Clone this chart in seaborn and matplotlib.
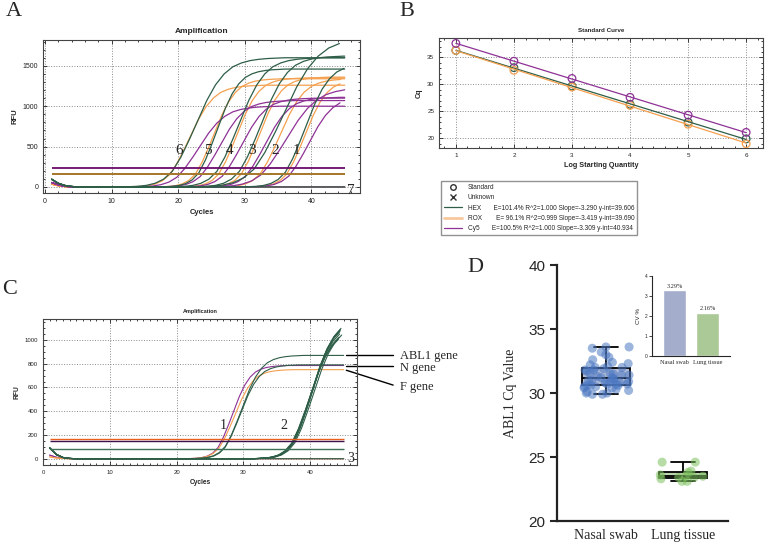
import matplotlib
matplotlib.use('Agg')
import matplotlib.pyplot as plt
from matplotlib.lines import Line2D
from matplotlib.ticker import MultipleLocator
import seaborn as sns
import pandas as pd
import numpy as np

# ---------------- data ----------------
# shared normalised amplification profile (offset in cycles from the midpoint)
profile_offsets = list(range(-9, 11))
profile = [0.0, 0.002, 0.005, 0.012, 0.028, 0.06, 0.12, 0.23, 0.37, 0.52,
           0.67, 0.79, 0.875, 0.93, 0.96, 0.978, 0.988, 0.994, 0.997, 1.0]
bump_cycles = [1, 2, 3, 4, 5]
last_cycle = 45

# panel A: dilutions 1..6 (log quantity), three channels
a_hex_mid = [39.4, 36.2, 32.8, 29.4, 26.1, 23.0]
a_hex_plateau = [1530, 1850, 1620, 1600, 1460, 1600]
a_hex_stretch = [1.1, 1.6, 1.2, 1.2, 1.0, 1.3]
a_rox_mid = [39.3, 35.6, 32.5, 29.1, 25.6, 22.0]
a_rox_plateau = [1330, 1340, 1360, 1350, 1340, 1260]
a_rox_stretch = [1.0, 1.1, 1.0, 1.0, 1.0, 1.1]
a_cy5_mid = [39.9, 36.6, 33.4, 29.9, 26.6, 23.4]
a_cy5_plateau = [1120, 1230, 1110, 1100, 1070, 1000]
a_cy5_stretch = [1.1, 1.4, 1.1, 1.1, 1.1, 1.2]
a_bump = {'HEX': [95, 45, 18, 6, 0], 'ROX': [35, 15, 5, 1, 0], 'Cy5': [55, 25, 8, 2, 0]}
a_thresholds = {'Cy5': 230, 'HEX': 162, 'ROX': 158}
a_labels = ['6', '5', '4', '3', '2', '1', '7']
a_label_x = [20.1, 24.4, 27.7, 31.1, 34.5, 37.7, 45.9]
a_label_y = [450, 450, 450, 450, 450, 450, -40]

# panel B: standard curve
log_qty = [1, 2, 3, 4, 5, 6]
cq_hex = [36.3, 33.1, 29.7, 26.3, 23.0, 19.9]
cq_rox = [36.3, 32.6, 29.5, 26.1, 22.6, 19.0]
cq_cy5 = [37.6, 34.3, 31.1, 27.6, 24.3, 21.1]
b_legend = ['HEX       E=101.4% R^2=1.000 Slope=-3.290 y-int=39.606',
            'ROX        E= 96.1% R^2=0.999 Slope=-3.419 y-int=39.690',
            'Cy5       E=100.5% R^2=1.000 Slope=-3.309 y-int=40.934']

# panel C: clinical samples
c_curves = [  # channel, midpoint, plateau, stretch
    ('Cy5', 28.6, 785, 0.8), ('ROX', 28.9, 750, 0.85),
    ('HEX', 30.0, 870, 0.9), ('HEX', 29.8, 790, 0.85),
    ('HEX', 40.3, 1100, 1.0), ('HEX', 40.4, 1130, 1.0), ('HEX', 40.5, 1160, 1.0),
    ('HEX', 40.6, 1180, 1.0), ('HEX', 40.2, 1080, 1.0), ('HEX', 40.7, 1120, 1.0),
    ('HEX', 40.4, 1150, 1.0), ('HEX', 40.5, 1170, 1.0),
    ('Cy5', 99, 0, 1.0), ('ROX', 99, 0, 1.0), ('HEX', 99, 0, 1.0),
]
c_bump = {'HEX': [90, 35, 10, 2, 0], 'ROX': [15, 6, 2, 0, 0], 'Cy5': [30, 12, 4, 1, 0]}
c_thresholds = {'ROX': 165, 'Cy5': 150, 'HEX': 85}
c_labels = ['1', '2', '3']
c_label_x = [27.0, 36.1, 46.0]
c_label_y = [280, 280, 0]
gene_names = ['ABL1 gene', 'N gene', 'F gene']
gene_rfu = [870, 785, 745]

# panel D
nasal_cq = [33.6, 33.6, 33.5, 33.2, 33.0, 32.8, 32.6, 32.4, 32.3, 32.2,
            32.1, 32.0, 32.0, 31.9, 31.8, 31.8, 31.7, 31.6, 31.5, 31.5,
            31.4, 31.3, 31.2, 31.2, 31.1, 31.1, 31.0, 31.0, 30.9, 30.9,
            30.8, 30.8, 30.7, 30.7, 30.7, 30.6, 30.6, 30.5, 30.5, 30.4,
            30.4, 30.3, 30.2, 30.1, 30.0, 30.0, 29.9, 29.9, 30.6, 31.4]
lung_cq = [24.6, 24.6, 23.9, 23.8, 23.6, 23.5, 23.5, 23.4, 23.4, 23.3, 23.1, 23.1]
sample_types = ['Nasal swab', 'Lung tissue']
cv_percent = [3.29, 2.16]

# ---------------- style ----------------
sns.set_style('ticks')
plt.rcParams['font.family'] = ['Liberation Sans', 'DejaVu Sans']
serif = ['Liberation Serif', 'DejaVu Serif']
ch_colors = {'HEX': '#2E5E48', 'ROX': '#F5A04F', 'Cy5': '#8E3296'}


def curve_frame(specs, bumps):
    rows = []
    for well, (ch, mid, plateau, stretch) in enumerate(specs):
        for c, b in zip(bump_cycles, bumps[ch]):
            rows.append((well, ch, c, b))
        added = False
        for o, p in zip(profile_offsets, profile):
            x = mid + o * stretch
            if bump_cycles[-1] < x <= last_cycle:
                rows.append((well, ch, x, plateau * p))
                added = True
        if not added or mid + profile_offsets[-1] * stretch <= last_cycle:
            rows.append((well, ch, last_cycle, rows[-1][3]))
    return pd.DataFrame(rows, columns=['well', 'channel', 'cycle', 'rfu'])


def amp_style(ax, fs):
    ax.grid(True, ls=':', color='#8a8a8a', lw=0.7)
    for s in ax.spines.values():
        s.set_color('#444444')
        s.set_linewidth(0.8)
    ax.tick_params(which='both', direction='in', top=True, right=True,
                   labelsize=fs, colors='#222222', width=0.6)
    ax.tick_params(which='major', length=3)
    ax.tick_params(which='minor', length=1.5)


fig = plt.figure(figsize=(7.65, 5.42), dpi=100)

# ---------------- A ----------------
axA = fig.add_axes([0.0562, 0.6439, 0.4144, 0.2823])
a_specs = []
for ch, mids, plats, strs in [('ROX', a_rox_mid, a_rox_plateau, a_rox_stretch),
                              ('Cy5', a_cy5_mid, a_cy5_plateau, a_cy5_stretch),
                              ('HEX', a_hex_mid, a_hex_plateau, a_hex_stretch)]:
    a_specs += [(ch, m, p, s) for m, p, s in zip(mids, plats, strs)]
    a_specs.append((ch, 99, 0, 1.0))
dfA = curve_frame(a_specs, a_bump)
sns.lineplot(data=dfA, x='cycle', y='rfu', hue='channel', units='well',
             estimator=None, palette=ch_colors, lw=0.9, legend=False, ax=axA)
thr_colA = {'Cy5': '#6A0A6A', 'HEX': '#3A6A48', 'ROX': '#B07A2A'}
for ch, t in a_thresholds.items():
    axA.hlines(t, 1, last_cycle, color=thr_colA[ch], lw=1.3)
for s, x, y in zip(a_labels, a_label_x, a_label_y):
    axA.text(x, y, s, family=serif, fontsize=11, ha='center', va='center')
axA.set_xlim(-0.3, 47.3)
axA.set_ylim(-75, 1820)
axA.set_xticks([0, 10, 20, 30, 40])
axA.set_yticks([0, 500, 1000, 1500])
axA.xaxis.set_minor_locator(MultipleLocator(2))
axA.yaxis.set_minor_locator(MultipleLocator(100))
amp_style(axA, 5)
axA.set_title('Amplification', fontsize=6, fontweight='bold', pad=5)
axA.set_xlabel('Cycles', fontsize=5.5, fontweight='bold', labelpad=3)
axA.set_ylabel('RFU', fontsize=5.5, fontweight='bold', labelpad=3)

# ---------------- B ----------------
axB = fig.add_axes([0.5739, 0.7269, 0.4235, 0.2030])
for ch, cq in [('HEX', cq_hex), ('ROX', cq_rox), ('Cy5', cq_cy5)]:
    sns.regplot(x=log_qty, y=cq, ci=None, ax=axB, color=ch_colors[ch],
                scatter_kws=dict(facecolors='none', edgecolors=ch_colors[ch],
                                 s=30, linewidths=0.9, alpha=1),
                line_kws=dict(lw=0.9))
axB.set_xlim(0.71, 6.29)
axB.set_ylim(18.2, 38.6)
axB.set_xticks(log_qty)
axB.set_yticks([20, 25, 30, 35])
axB.xaxis.set_minor_locator(MultipleLocator(0.2))
axB.yaxis.set_minor_locator(MultipleLocator(1))
amp_style(axB, 4.5)
axB.set_title('Standard Curve', fontsize=4.5, fontweight='bold', pad=4)
axB.set_xlabel('Log Starting Quantity', fontsize=5.2, fontweight='bold', labelpad=3)
axB.set_ylabel('Cq', fontsize=5.2, fontweight='bold', labelpad=3)
handles = [Line2D([], [], ls='none', marker='o', mfc='none', mec='#333333', ms=4),
           Line2D([], [], ls='none', marker='x', color='#333333', ms=4),
           Line2D([], [], color=ch_colors['HEX'], lw=0.9),
           Line2D([], [], color='#F8C89E', lw=2),
           Line2D([], [], color=ch_colors['Cy5'], lw=0.9)]
fig.legend(handles, ['Standard', 'Unknown'] + b_legend, loc='upper left',
           bbox_to_anchor=(0.5725, 0.6716), fontsize=4.7, frameon=True,
           fancybox=False, edgecolor='#777777', handlelength=2.8,
           labelspacing=0.5, borderpad=0.45)

# ---------------- C ----------------
axC = fig.add_axes([0.0562, 0.1421, 0.4105, 0.2694])
dfC = curve_frame(c_curves, c_bump)
sns.lineplot(data=dfC, x='cycle', y='rfu', hue='channel', units='well',
             estimator=None, palette=ch_colors, lw=0.8, legend=False, ax=axC)
thr_colC = {'ROX': '#E8601C', 'Cy5': '#3E1050', 'HEX': '#3D7055'}
for ch, t in c_thresholds.items():
    axC.hlines(t, 1, last_cycle, color=thr_colC[ch], lw=1.0)
for s, x, y in zip(c_labels, c_label_x, c_label_y):
    axC.text(x, y, s, family=serif, fontsize=10, ha='center', va='center')
axC.set_xlim(0, 47)
axC.set_ylim(-53, 1177)
axC.set_xticks([0, 10, 20, 30, 40])
axC.set_yticks([0, 200, 400, 600, 800, 1000])
axC.xaxis.set_minor_locator(MultipleLocator(1))
axC.yaxis.set_minor_locator(MultipleLocator(50))
amp_style(axC, 4.3)
axC.set_title('Amplification', fontsize=4, fontweight='bold', pad=4)
axC.set_xlabel('Cycles', fontsize=4.8, fontweight='bold', labelpad=3)
axC.set_ylabel('RFU', fontsize=4.8, fontweight='bold', labelpad=3)
label_end = [870, 785, 620]
label_y = [865, 765, 600]
for name, r0, r1, ty in zip(gene_names, gene_rfu, label_end, label_y):
    axC.plot([45.4, 52.4], [r0, r1], color='black', lw=1.0, clip_on=False)
    axC.text(53.4, ty, name, family=serif, fontsize=9, va='center', ha='left')

# ---------------- D ----------------
axD = fig.add_axes([0.7281, 0.0387, 0.2235, 0.4723])
dfD = pd.DataFrame({'type': ['Nasal swab'] * len(nasal_cq) + ['Lung tissue'] * len(lung_cq),
                    'cq': nasal_cq + lung_cq})
sns.boxplot(data=dfD, x='type', y='cq', order=sample_types, hue='type',
            palette=['#AEBBDC', '#BBDDA8'], whis=(0, 100), width=0.62,
            linecolor='black', linewidth=1.3, showfliers=False, legend=False, ax=axD)
n_before = len(axD.collections)
sns.stripplot(data=dfD, x='type', y='cq', order=sample_types, hue='type',
              palette=['#4C78C2', '#7CC05E'], size=6.5, alpha=0.55, jitter=0.3,
              legend=False, ax=axD)
for coll in axD.collections[n_before:]:
    coll.set_zorder(4)
axD.set_xlim(-0.64, 1.58)
axD.set_ylim(20, 40)
axD.set_yticks([20, 25, 30, 35, 40])
sns.despine(ax=axD)
for s in ['left', 'bottom']:
    axD.spines[s].set_linewidth(1.6)
    axD.spines[s].set_color('#222222')
axD.tick_params(axis='y', labelsize=11, length=5, width=1.5)
axD.tick_params(axis='x', length=0, pad=6)
for lab in axD.get_xticklabels():
    lab.set_family(serif)
    lab.set_fontsize(10)
axD.set_xlabel('')
axD.set_ylabel('ABL1 Cq Value', family=serif, fontsize=10, labelpad=8)

# inset CV bars
axI = fig.add_axes([0.8523, 0.3432, 0.1020, 0.1476])
sns.barplot(x=sample_types, y=cv_percent, hue=sample_types,
            palette=['#9DAAD2', '#A9D08F'], width=0.7, legend=False, ax=axI)
for c, v in zip(axI.containers, cv_percent):
    axI.bar_label(c, labels=[f'{v:.2f}%'], fontsize=4.5, family=serif, padding=1)
axI.set_xlim(-0.68, 1.68)
axI.set_ylim(0, 4)
axI.set_yticks([0, 1, 2, 3, 4])
sns.despine(ax=axI)
for s in ['left', 'bottom']:
    axI.spines[s].set_linewidth(0.8)
axI.tick_params(axis='y', labelsize=3.5, length=2, width=0.6, pad=1)
axI.tick_params(axis='x', length=0, pad=3)
for lab in axI.get_xticklabels():
    lab.set_family(serif)
    lab.set_fontsize(4.5)
axI.set_ylabel('CV %', fontsize=4.5, labelpad=3)

# panel letters
for s, x, y in [('A', 14, 12), ('B', 407, 12), ('C', 10, 289), ('D', 475, 268)]:
    fig.text(x / 765, 1 - y / 542, s, family=serif, fontsize=16, ha='center', va='center')

fig.savefig('out.png', dpi=100)
